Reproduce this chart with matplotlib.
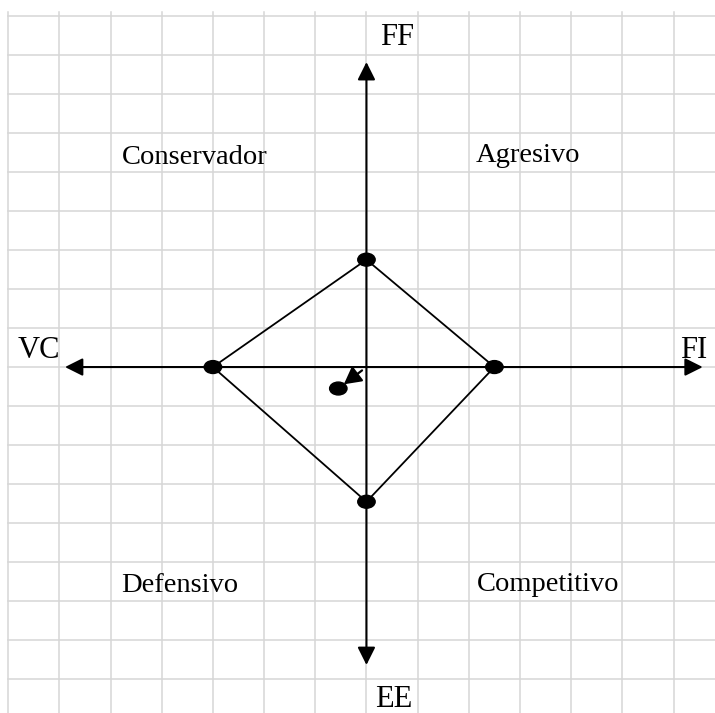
import matplotlib.pyplot as plt
from matplotlib.patches import Ellipse

# SPACE matrix values
axis_names = ["FF", "VC", "FI", "EE"]
ff = 2.75
vc = -3.0
fi = 2.5
ee = -3.45
result_x = -0.55
result_y = -0.55
quadrants = ["Conservador", "Agresivo", "Defensivo", "Competitivo"]

plt.rcParams["font.family"] = ["Liberation Serif", "DejaVu Serif"]

fig = plt.figure(figsize=(7.15, 7.13), dpi=100)
ax = fig.add_axes([0, 0, 1, 1])
ax.set_xlim(-7.16, 6.81)
ax.set_ylim(-8.86, 9.40)
ax.axis("off")

# background grid
grid_c = "#d6d6d6"
for gx in range(-7, 7):
    ax.plot([gx, gx], [-8.86, 9.09], color=grid_c, lw=1.1, zorder=0)
for gy in range(-8, 10):
    ax.plot([-7, 6.81], [gy, gy], color=grid_c, lw=1.1, zorder=0)

# axes with arrow heads
arr = dict(arrowstyle="<|-|>,head_length=0.6,head_width=0.3", mutation_scale=18,
           color="black", lw=1.5, shrinkA=0, shrinkB=0)
ax.annotate("", xy=(6.57, 0), xytext=(-5.89, 0), arrowprops=arr, zorder=2)
ax.annotate("", xy=(0, 7.81), xytext=(0, -7.63), arrowprops=arr, zorder=2)

# diamond
px = [0, fi, 0, vc, 0]
py = [ff, 0, ee, 0, ff]
ax.plot(px, py, color="black", lw=1.3, zorder=3)
for x, y in zip(px[:-1], py[:-1]):
    ax.add_patch(Ellipse((x, y), 0.34, 0.33, color="black", zorder=4))

# resulting vector
ax.add_patch(Ellipse((result_x, result_y), 0.34, 0.33, color="black", zorder=4))
ax.annotate("", xy=(result_x, result_y), xytext=(0, 0),
            arrowprops=dict(arrowstyle="-|>,head_length=0.65,head_width=0.35",
                            mutation_scale=16, color="black", lw=1.6,
                            shrinkA=4, shrinkB=5), zorder=4)

# labels
ax.text(0.6, 8.24, axis_names[0], fontsize=22, ha="center", va="baseline")
ax.text(-6.4, 0.23, axis_names[1], fontsize=22, ha="center", va="baseline")
ax.text(6.4, 0.23, axis_names[2], fontsize=22, ha="center", va="baseline")
ax.text(0.53, -8.70, axis_names[3], fontsize=22, ha="center", va="baseline")

ax.text(-3.36, 5.2, quadrants[0], fontsize=20.5, ha="center", va="baseline")
ax.text(3.16, 5.25, quadrants[1], fontsize=20.5, ha="center", va="baseline")
ax.text(-3.65, -5.76, quadrants[2], fontsize=20.5, ha="center", va="baseline")
ax.text(3.54, -5.73, quadrants[3], fontsize=20.5, ha="center", va="baseline")

fig.savefig("out.png", dpi=100, facecolor="white")
